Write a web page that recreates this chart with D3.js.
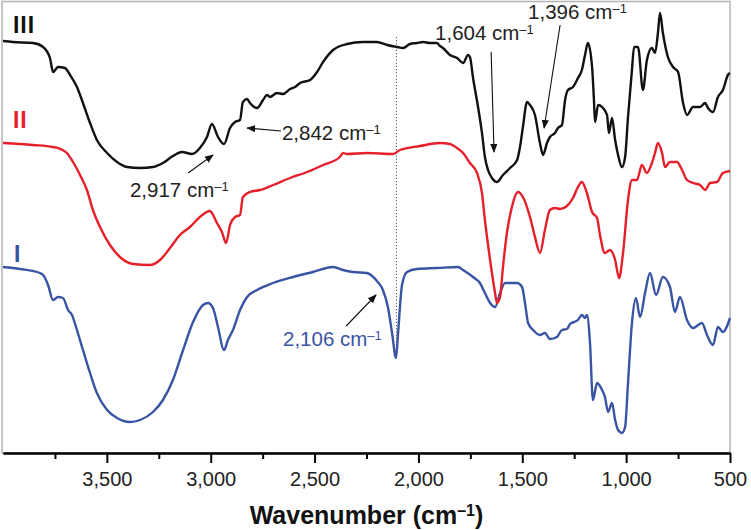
<!DOCTYPE html>
<html>
<head>
<meta charset="utf-8">
<script src="https://cdn.jsdelivr.net/npm/d3@7"></script>
<style>
  html, body { margin: 0; padding: 0; background: #fff; }
  svg { display: block; font-family: "Liberation Sans", Arial, Helvetica, sans-serif; }
</style>
</head>
<body>
<svg id="chart" width="751" height="530"></svg>
<script>
// ---------- data (wavenumber cm-1, transmittance a.u.) ----------
const seriesNames = ["I", "II", "III"];

const spectrumI = [
  [4000,37.2],[3918,36.8],[3822,36],[3807,35.6],[3783,33.6],[3759,30.6],[3735,31.2],[3711,31],
  [3687,28.6],[3668,27.6],[3644,24.6],[3615,20.6],[3581,16],[3548,12],[3499,8.6],[3451,7],
  [3389,6.2],[3340,6.6],[3278,8.2],[3230,10.6],[3182,14.6],[3133,20.6],[3085,26.2],[3037,29.6],
  [3013,30],[2989,29],[2965,25.2],[2936,20.6],[2917,22.6],[2893,24.6],[2859,28.6],[2825,31.2],
  [2777,32.6],[2700,34],[2604,35.2],[2508,36.2],[2411,37.2],[2363,36.6],[2315,36.2],[2248,36],
  [2200,34.4],[2171,32.6],[2147,29.2],[2127,24],[2108,19],[2098,24],[2079,33.6],[2055,36.2],
  [2007,36.8],[1911,37],[1809,37.2],[1785,36.6],[1737,35.2],[1704,34],[1680,32],[1655,30],
  [1631,29.2],[1607,32],[1583,34],[1525,34],[1501,33.2],[1487,30],[1472,26],[1448,24.6],
  [1415,23.6],[1391,24],[1367,22.8],[1333,23.2],[1309,24.6],[1285,24.8],[1270,25.8],[1232,26.6],
  [1213,27.6],[1198,27],[1189,27.6],[1174,22],[1160,10.6],[1140,14],[1116,12.6],[1102,11.2],
  [1087,8.2],[1068,10],[1053,6.6],[1039,4.6],[1020,4],[1005,5.2],[991,14],[972,26],
  [953,31],[933,27.2],[909,32],[885,36],[856,31.6],[823,35.2],[789,33.2],[765,28.2],
  [741,31.2],[707,26.6],[678,25],[635,26],[611,23.6],[582,21.6],[558,25.2],[534,24.2],[500,27]
];

const spectrumII = [
  [4000,62],[3856,61.6],[3759,61.2],[3735,61],[3692,60],[3663,58.2],[3629,55.6],[3596,52.6],
  [3567,48.6],[3533,45.2],[3485,41.6],[3437,39.2],[3374,37.8],[3293,37.6],[3244,38.6],[3196,41],
  [3148,43.6],[3100,45.2],[3052,47.2],[3004,48.4],[2970,46],[2946,44.2],[2926,42],[2907,45.6],
  [2883,47.2],[2859,47.6],[2845,51.2],[2811,52.2],[2763,52.6],[2700,53.6],[2618,55],[2536,56.2],
  [2459,57.6],[2378,59.2],[2363,60],[2344,59.8],[2248,60],[2122,59.8],[2089,60.6],[1992,61.4],
  [1896,62],[1848,61.8],[1814,61],[1785,60],[1752,58],[1718,56],[1694,52],[1680,46.6],
  [1655,38.6],[1631,32],[1622,30],[1607,31.2],[1593,37.2],[1574,44],[1550,49.2],[1521,52.2],
  [1497,51.2],[1463,47.2],[1439,43.2],[1415,40],[1391,44.6],[1367,48.6],[1343,49],[1318,48.8],
  [1285,49.4],[1256,51],[1232,53.2],[1213,54.2],[1189,52],[1164,48.2],[1140,47],[1126,43.6],
  [1102,40],[1078,40.6],[1053,38.6],[1034,35],[1015,40],[991,50.6],[972,54.6],[948,54.6],
  [924,57.6],[900,56],[876,58],[861,60],[847,62],[827,60],[813,57.2],[789,58.2],
  [755,58.2],[731,56.6],[707,54.6],[678,54],[644,53.6],[620,52.6],[596,54],[563,54.2],
  [534,56],[500,56.4]
];

const spectrumIII = [
  [4000,82.4],[3952,82.2],[3856,82],[3807,81.2],[3774,79],[3759,76.2],[3735,77.2],[3702,77],
  [3677,75.6],[3644,73.2],[3615,70],[3581,66],[3548,62.6],[3499,60],[3451,58.2],[3403,57.2],
  [3340,57],[3278,57.2],[3230,58],[3182,59.4],[3138,60.2],[3090,59.8],[3052,61],[3018,63.2],
  [2994,65.8],[2965,63.2],[2936,61.8],[2907,65],[2883,66.2],[2859,66.6],[2845,70.2],[2825,70.8],
  [2811,70],[2777,69],[2748,70.6],[2729,71.6],[2715,71.2],[2681,72],[2652,71.8],[2618,72.8],
  [2594,73.2],[2570,74],[2522,74.6],[2488,76.2],[2459,78.2],[2411,80.6],[2344,81.8],[2267,82.2],
  [2200,82.2],[2151,81.6],[2103,81.2],[2074,81],[2041,81.8],[2007,82],[1978,82.2],[1944,82],
  [1911,82],[1896,81.4],[1882,81],[1848,79.6],[1814,79],[1785,78],[1761,79.6],[1752,79.2],
  [1737,75],[1713,69.2],[1694,64],[1680,59.2],[1665,56.6],[1646,55],[1622,54.2],[1593,55.6],
  [1559,57],[1525,58.6],[1511,61.2],[1497,65.2],[1477,70.2],[1463,69.6],[1439,67.6],[1415,62],
  [1400,59.6],[1381,62],[1367,63.2],[1343,64],[1328,65],[1309,65.6],[1294,70.6],[1280,72.6],
  [1256,73.2],[1232,75],[1213,76.6],[1198,79.6],[1184,82],[1164,77.2],[1155,70.6],[1150,66.2],
  [1135,69.6],[1116,69.2],[1092,67.6],[1083,64],[1068,67],[1053,62.6],[1039,59.6],[1020,57.2],
  [1005,59.2],[991,67.2],[972,76.6],[962,81.2],[943,81.2],[919,72.6],[900,78.6],[876,81],
  [861,80],[847,84],[837,88],[823,84],[799,79.2],[774,77.2],[750,76.2],[726,70],
  [707,67.6],[678,69.2],[644,69.2],[620,70],[606,69],[582,68.2],[558,71.2],[534,72.6],
  [510,75.6],[500,76]
];

const majorTicks = [3500, 3000, 2500, 2000, 1500, 1000, 500];
const minorTicks = [3750, 3250, 2750, 2250, 1750, 1250, 750];

// peak annotations: label, label anchor (wn, val), arrow from -> to
const peakLabels = ["2,917", "2,842", "1,604", "1,396", "2,106"];
const peakLabelPos = [[3389,51.2],[2657,62.6],[1920,82.6],[1472,86.8],[2652,21.4]];
const peakArrowFrom = [[3109,56],[2662,64.4],[1650,80.2],[1318,85.6],[2348,25.4]];
const peakArrowTo = [[2989,59.6],[2825,65],[1636,60.2],[1395,65],[2204,31.6]];
const peakSeries = ["III","III","III","III","I"];

// series label positions (wn, val)
const seriesLabelPos = [[3947,38.2],[3952,65],[3952,84]];
// dotted guide at the azide band
const guideWn = 2106;
const guideRange = [19, 83.2];

// ---------- drawing ----------
(function () {
const colors = { "I": "#3a54a4", "II": "#e5202b", "III": "#111111" };
const svg = d3.select("#chart");
const pLeft = 3, pRight = 730, pTop = 3, pBottom = 453;

const x = d3.scaleLinear().domain([4000, 500]).range([pLeft, pRight]);
const y = d3.scaleLinear().domain([0, 90]).range([pBottom, pTop]);

// frame
svg.append("rect")
  .attr("x", 2).attr("y", 1.5).attr("width", pRight - 2).attr("height", pBottom - 1.5)
  .attr("fill", "none").attr("stroke", "#b3b3b3").attr("stroke-width", 1.5);

// dotted guide
svg.append("line")
  .attr("x1", x(guideWn)).attr("x2", x(guideWn))
  .attr("y1", y(guideRange[1])).attr("y2", y(guideRange[0]))
  .attr("stroke", "#444").attr("stroke-width", 1).attr("stroke-dasharray", "1.2,2");

// spectra
const line = d3.line().x(d => x(d[0])).y(d => y(d[1])).curve(d3.curveMonotoneX);
const spectra = { "I": spectrumI, "II": spectrumII, "III": spectrumIII };
seriesNames.forEach(n => {
  svg.append("path").datum(spectra[n])
    .attr("d", line).attr("fill", "none")
    .attr("stroke", colors[n]).attr("stroke-width", 2.4)
    .attr("stroke-linejoin", "round");
});

// series labels
seriesNames.forEach((n, i) => {
  svg.append("text")
    .attr("x", x(seriesLabelPos[i][0])).attr("y", y(seriesLabelPos[i][1]))
    .attr("fill", colors[n]).attr("font-size", 23).attr("font-weight", "bold")
    .attr("letter-spacing", 1)
    .text(n);
});

// arrow marker
const defs = svg.append("defs");
defs.append("marker").attr("id", "arr")
  .attr("viewBox", "0 0 10 10").attr("refX", 9).attr("refY", 5)
  .attr("markerWidth", 9).attr("markerHeight", 9).attr("markerUnits", "userSpaceOnUse")
  .attr("orient", "auto")
  .append("path").attr("d", "M0,1 L10,5 L0,9 Z").attr("fill", "#111");

peakLabels.forEach((lab, i) => {
  svg.append("line")
    .attr("x1", x(peakArrowFrom[i][0])).attr("y1", y(peakArrowFrom[i][1]))
    .attr("x2", x(peakArrowTo[i][0])).attr("y2", y(peakArrowTo[i][1]))
    .attr("stroke", "#111").attr("stroke-width", 1.1)
    .attr("marker-end", "url(#arr)");
  const t = svg.append("text")
    .attr("x", x(peakLabelPos[i][0])).attr("y", y(peakLabelPos[i][1]))
    .attr("font-size", 20.5)
    .attr("fill", peakSeries[i] === "I" ? colors["I"] : "#222");
  t.append("tspan").text(lab + " cm");
  t.append("tspan").attr("font-size", 13).attr("dy", -6).text("\u2013" + "1");
});

// x axis
const gMinor = svg.append("g").attr("transform", `translate(0,${pBottom})`)
  .call(d3.axisBottom(x).tickValues(minorTicks).tickSize(6).tickSizeOuter(0).tickFormat(""));
const gMajor = svg.append("g").attr("transform", `translate(0,${pBottom})`)
  .call(d3.axisBottom(x).tickValues(majorTicks).tickSize(10).tickSizeOuter(0)
    .tickPadding(9).tickFormat(d3.format(",")));
[gMinor, gMajor].forEach(g => {
  g.select(".domain").attr("stroke", "#000").attr("stroke-width", 2.2);
  g.selectAll(".tick line").attr("stroke", "#000").attr("stroke-width", 2);
});
gMajor.selectAll(".tick text").attr("font-size", 20).attr("fill", "#222")
  .attr("font-family", "Liberation Sans, Arial, sans-serif");

// axis title
const title = svg.append("text")
  .attr("x", (pLeft + pRight) / 2).attr("y", 524)
  .attr("text-anchor", "middle").attr("font-size", 25).attr("font-weight", "bold")
  .attr("fill", "#111");
title.append("tspan").text("Wavenumber (cm");
title.append("tspan").attr("font-size", 16).attr("dy", -8).text("\u2013" + "1");
title.append("tspan").attr("dy", 8).text(")");
})();
</script>
</body>
</html>
